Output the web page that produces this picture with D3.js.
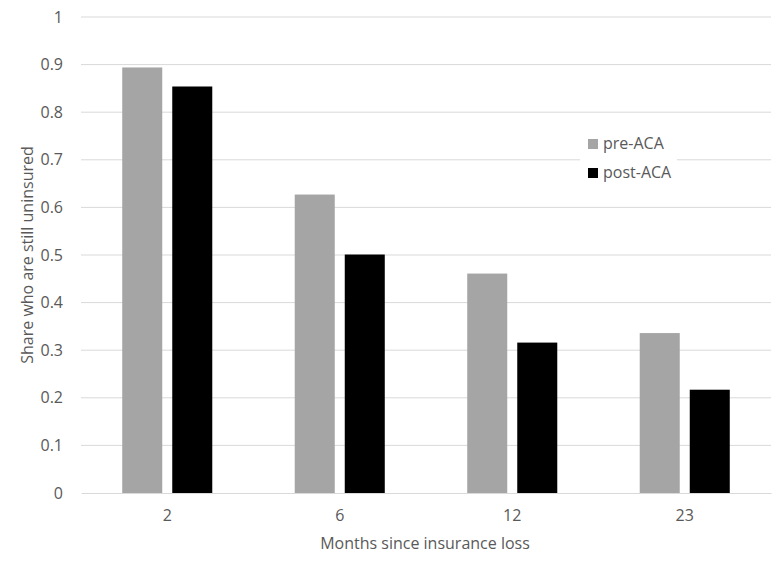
<!DOCTYPE html>
<html>
<head>
<meta charset="utf-8">
<script src="https://cdn.jsdelivr.net/npm/d3@7"></script>
<style>
  body { margin: 0; background: #fff; }
  text { font-family: "Open Sans", "Liberation Sans", sans-serif; }
</style>
</head>
<body>
<div id="chart-area"></div>
<script>
const months = ["2", "6", "12", "23"];
const seriesNames = ["pre-ACA", "post-ACA"];
const preACA = [0.894, 0.627, 0.461, 0.336];
const postACA = [0.854, 0.501, 0.316, 0.217];
const yTicks = [0, 0.1, 0.2, 0.3, 0.4, 0.5, 0.6, 0.7, 0.8, 0.9, 1];
const colors = ["#a5a5a5", "#000000"];

const canvasWidth = 783;
const canvasHeight = 568;
const margin = {left: 81, top: 17, right: 12, bottom: 75};
const chartWidth = canvasWidth - margin.left - margin.right;
const chartHeight = canvasHeight - margin.top - margin.bottom;

const canvas = d3.select("#chart-area").append("svg")
  .attr("width", canvasWidth).attr("height", canvasHeight);
const chartGroup = canvas.append("g").attr("transform", `translate(${margin.left}, ${margin.top})`);

const yScale = d3.scaleLinear().domain([0, 1]).range([chartHeight, 0]);
const xScale = d3.scaleBand().domain(months).range([0, chartWidth]).paddingInner(0.478).paddingOuter(0.239);
const xSub = d3.scaleBand().domain(seriesNames).range([0, xScale.bandwidth()]).paddingInner(0.2);

// gridlines
chartGroup.selectAll(".grid").data(yTicks.slice(1)).enter().append("line")
  .attr("x1", 0).attr("x2", chartWidth)
  .attr("y1", d => yScale(d)).attr("y2", d => yScale(d))
  .attr("stroke", "#d9d9d9").attr("stroke-width", 1);

// y tick labels
const yAxis = d3.axisLeft(yScale).tickValues(yTicks).tickFormat(d => d3.format("")(d)).tickSize(0).tickPadding(18);
const yG = chartGroup.append("g").call(yAxis);
yG.select(".domain").remove();
yG.selectAll("text").attr("font-size", "16px").attr("fill", "#595959")
  .style("font-family", "'Open Sans', 'Liberation Sans', sans-serif");

// bars
const rows = months.map((m, i) => ({month: m, values: [preACA[i], postACA[i]]}));
const groups = chartGroup.selectAll(".grp").data(rows).enter().append("g")
  .attr("transform", d => `translate(${xScale(d.month)}, 0)`);
groups.selectAll("rect").data(d => d.values.map((v, j) => ({name: seriesNames[j], value: v, j: j})))
  .enter().append("rect")
  .attr("x", d => xSub(d.name))
  .attr("width", xSub.bandwidth())
  .attr("y", d => yScale(d.value))
  .attr("height", d => chartHeight - yScale(d.value))
  .attr("fill", d => colors[d.j]);

// x axis
const xAxis = d3.axisBottom(xScale).tickSize(0).tickPadding(17);
const xG = chartGroup.append("g").attr("transform", `translate(0, ${chartHeight})`).call(xAxis);
xG.select(".domain").attr("stroke", "#d9d9d9");
xG.selectAll("text").attr("font-size", "16px").attr("fill", "#595959")
  .style("font-family", "'Open Sans', 'Liberation Sans', sans-serif");

// axis titles
canvas.append("text")
  .attr("font-size", "16px").attr("fill", "#595959").attr("text-anchor", "middle")
  .attr("x", 425).attr("y", 549)
  .text("Months since insurance loss");

canvas.append("text")
  .attr("font-size", "16px").attr("fill", "#595959").attr("text-anchor", "middle")
  .attr("transform", `translate(33, ${margin.top + chartHeight / 2}) rotate(-90)`)
  .text("Share who are still uninsured");

// legend
const legend = canvas.append("g").attr("transform", "translate(580, 128)");
legend.append("rect").attr("width", 97).attr("height", 60).attr("fill", "#fff");
seriesNames.forEach((name, i) => {
  legend.append("rect").attr("x", 8).attr("y", 11 + i * 29).attr("width", 10).attr("height", 10).attr("fill", colors[i]);
  legend.append("text").attr("x", 23).attr("y", 21 + i * 29)
    .attr("font-size", "16px").attr("fill", "#595959").text(name);
});
</script>
</body>
</html>
